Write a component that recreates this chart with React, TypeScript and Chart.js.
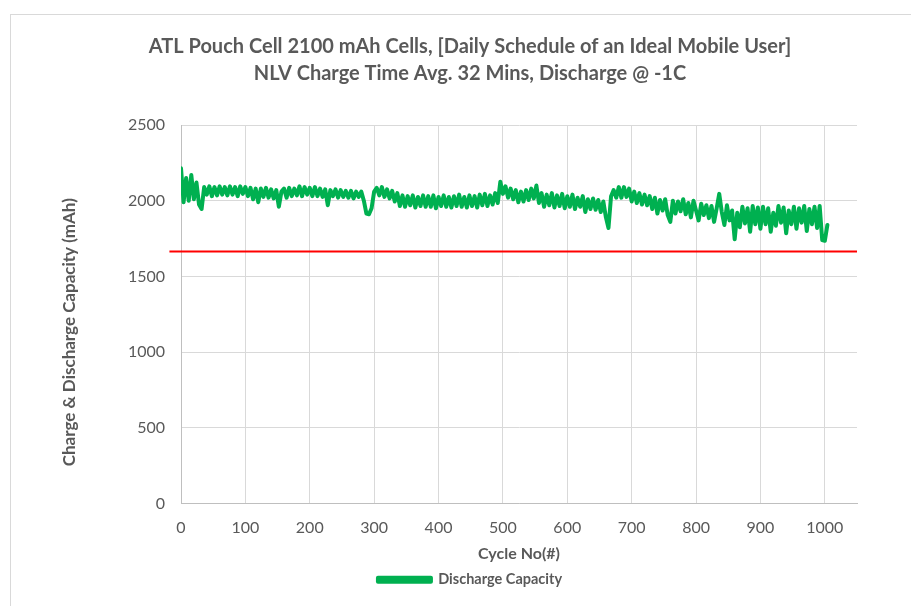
import React, { useEffect, useRef } from "react";
import { Chart, registerables } from "chart.js";

Chart.register(...registerables);

const titleLines = [
  "ATL Pouch Cell 2100 mAh Cells, [Daily Schedule of an Ideal Mobile User]",
  "NLV Charge Time Avg. 32 Mins, Discharge @ -1C",
];
const xAxisTitle = "Cycle No(#)";
const yAxisTitle = "Charge & Discharge Capacity (mAh)";
const seriesName = "Discharge Capacity";
const limitName = "Limit";

const cycleStep = 4;
// Discharge capacity (mAh), one reading every 4 cycles
const dischargeCapacity = [
  2215, 1990, 2150, 2000, 2170,
  2010, 2120, 1975, 1945, 2090,
  2040, 2095, 2030, 2090, 2035,
  2095, 2040, 2090, 2035, 2095,
  2040, 2090, 2030, 2095, 2045,
  2090, 2030, 2085, 2010, 2080,
  1990, 2080, 2025, 2085, 2020,
  2075, 2015, 2070, 1960, 2060,
  2080, 2020, 2085, 2030, 2080,
  2035, 2095, 2030, 2090, 2040,
  2085, 2030, 2090, 2030, 2080,
  2025, 2075, 1970, 2070, 2030,
  2075, 2020, 2070, 2025, 2065,
  2020, 2065, 2015, 2060, 2025,
  2060, 2000, 1915, 1910, 1950,
  2060, 2085, 2035, 2090, 2025,
  2075, 2015, 2065, 1995, 2050,
  1965, 2035, 1960, 2030, 1970,
  2035, 1955, 2025, 1965, 2035,
  1960, 2030, 1960, 2035, 1950,
  2025, 1965, 2035, 1960, 2025,
  1955, 2030, 1965, 2040, 1960,
  2025, 1955, 2035, 1965, 2030,
  1955, 2040, 1970, 2045, 1965,
  2035, 1975, 2050, 1985, 2125,
  2045, 2095, 2020, 2080, 2010,
  2070, 1990, 2060, 1995, 2070,
  2005, 2080, 2015, 2100, 1985,
  2050, 1960, 2040, 1970, 2050,
  1955, 2035, 1965, 2045, 1950,
  2030, 1960, 2040, 1945, 2020,
  1960, 2030, 1925, 2010, 1945,
  2015, 1940, 2005, 1925, 1995,
  1890, 1820, 2030, 2070, 2020,
  2090, 2020, 2090, 2025, 2080,
  1995, 2060, 1985, 2050, 1975,
  2040, 1970, 2030, 1945, 2020,
  1915, 2005, 1935, 2010, 1905,
  1860, 2000, 1915, 1995, 1930,
  2010, 1910, 1985, 1890, 2000,
  1935, 1870, 1980, 1905, 1970,
  1885, 1965, 1860, 1950, 2045,
  1925, 1840, 1970, 1870, 1935,
  1745, 1920, 1825, 1960, 1850,
  1950, 1795, 1965, 1845, 1955,
  1815, 1960, 1845, 1950, 1795,
  1920, 1835, 1965, 1855, 1955,
  1785, 1935, 1845, 1960, 1815,
  1950, 1855, 1965, 1800, 1945,
  1845, 1960, 1820, 1965, 1740,
  1735, 1840,
];
const cycles = dischargeCapacity.map((_, i) => i * cycleStep);

const limitCycles = [-18, 1050];
const limitCapacity = [1665, 1665];

const xTickValues = [0, 100, 200, 300, 400, 500, 600, 700, 800, 900, 1000];
const yTickValues = [0, 500, 1000, 1500, 2000, 2500];

const FONT = "Lato, 'Open Sans', sans-serif";
const TEXT = "#595959";

const yTitlePlugin = {
  id: "yTitleCustom",
  afterDraw(chart: any) {
    const { ctx, chartArea } = chart;
    ctx.save();
    ctx.font = `bold 17px ${FONT}`;
    ctx.fillStyle = TEXT;
    ctx.textAlign = "center";
    ctx.textBaseline = "middle";
    ctx.translate(70, (chartArea.top + chartArea.bottom) / 2 + 18);
    ctx.rotate(-Math.PI / 2);
    ctx.fillText(yAxisTitle, 0, 0);
    ctx.restore();
  },
};

export default function App() {
  const ref = useRef<HTMLCanvasElement>(null);

  useEffect(() => {
    document.body.style.margin = "0";
    const canvas = ref.current;
    if (!canvas) return;
    const chart = new Chart(canvas, {
      type: "line",
      data: {
        datasets: [
          {
            label: seriesName,
            data: cycles.map((c, i) => ({ x: c, y: dischargeCapacity[i] })),
            borderColor: "#00B050",
            backgroundColor: "#00B050",
            borderWidth: 4,
            pointRadius: 0,
            tension: 0,
            borderJoinStyle: "round",
            borderCapStyle: "round",
          },
          {
            label: limitName,
            data: limitCycles.map((c, i) => ({ x: c, y: limitCapacity[i] })),
            borderColor: "#FF0000",
            backgroundColor: "#FF0000",
            borderWidth: 2,
            pointRadius: 0,
            clip: false as any,
          },
        ],
      },
      options: {
        responsive: false,
        animation: false,
        layout: { padding: { left: 83, right: 54, top: 0, bottom: 9 } },
        plugins: {
          title: {
            display: true,
            text: titleLines,
            color: TEXT,
            font: { family: FONT, size: 20, weight: "bold", lineHeight: 1.35 },
            padding: { top: 33, bottom: 38 },
          },
          legend: {
            position: "bottom",
            labels: {
              filter: (item: any) => item.datasetIndex === 0,
              boxWidth: 53,
              boxHeight: 4,
              color: TEXT,
              font: { family: FONT, size: 14.5, weight: "bold" },
              padding: 8,
            },
          },
          tooltip: { enabled: false },
        },
        scales: {
          x: {
            type: "linear",
            min: 0,
            max: 1050,
            afterBuildTicks: (scale: any) => {
              scale.ticks = xTickValues.map((v) => ({ value: v }));
            },
            afterFit: (scale: any) => {
              scale.height = 61;
            },
            ticks: {
              color: TEXT,
              font: { family: FONT, size: 16 },
              padding: 15,
              maxRotation: 0,
              callback: (v: any) => String(v),
            },
            grid: { color: "#d9d9d9", drawTicks: false },
            border: { color: "#bfbfbf" },
            title: {
              display: true,
              text: xAxisTitle,
              color: TEXT,
              font: { family: FONT, size: 16, weight: "bold" },
              padding: { top: 4, bottom: 1 },
            },
          },
          y: {
            type: "linear",
            min: 0,
            max: 2500,
            afterBuildTicks: (scale: any) => {
              scale.ticks = yTickValues.map((v) => ({ value: v }));
            },
            afterFit: (scale: any) => {
              scale.width = 98;
            },
            ticks: {
              color: TEXT,
              font: { family: FONT, size: 16 },
              padding: 16,
              callback: (v: any) => String(v),
            },
            grid: { color: "#d9d9d9", drawTicks: false },
            border: { color: "#bfbfbf" },
          },
        },
      },
      plugins: [yTitlePlugin],
    });
    return () => chart.destroy();
  }, []);

  return (
    <div style={{ position: "relative", width: 911, height: 606, overflow: "hidden", background: "#fff" }}>
      <div
        style={{
          position: "absolute",
          left: 10,
          top: 14,
          width: 940,
          height: 640,
          border: "1px solid #d9d9d9",
          boxSizing: "border-box",
        }}
      />
      <canvas ref={ref} width={911} height={606} style={{ position: "absolute", left: 0, top: 0 }} />
    </div>
  );
}
